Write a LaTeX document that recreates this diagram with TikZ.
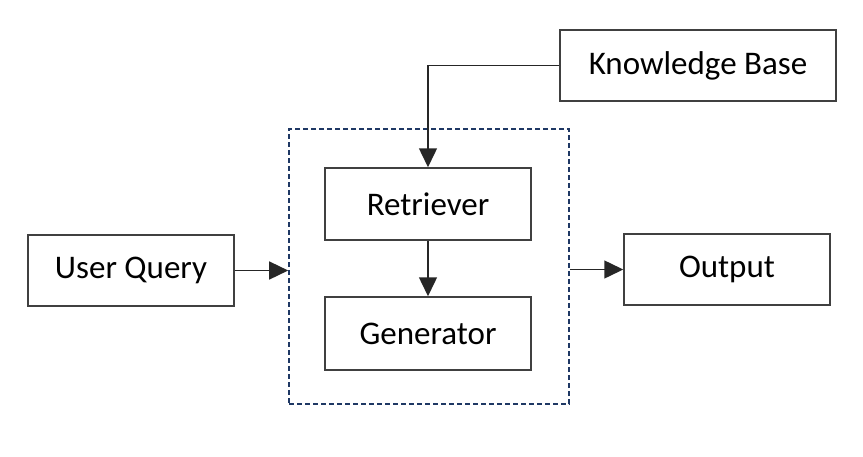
\documentclass[tikz,border=0pt]{standalone}
\usepackage{fontspec}
\setmainfont{Carlito}
\usetikzlibrary{arrows.meta}
\definecolor{boxline}{HTML}{404040}
\definecolor{navy}{HTML}{1F3864}
\begin{document}
\begin{tikzpicture}[x=1pt,y=-1pt,
  blk/.style={draw=boxline,line width=1.5pt,fill=white,inner sep=0pt,font=\fontsize{33}{40}\selectfont},
  grp/.style={draw=navy,line width=1.6pt,dash pattern=on 5pt off 3pt,inner sep=0pt},
  conn/.style={draw=black!85,line width=1.5pt,-{Triangle[length=19pt,width=18pt]}}]
\useasboundingbox (0,0) rectangle (863,456);
\node[grp,minimum width=280pt,minimum height=275pt] (sys) at (429,266.5) {};
\node[blk,minimum width=276pt,minimum height=71pt] (kb) at (698,65.5) {Knowledge Base};
\node[blk,minimum width=206pt,minimum height=72pt] (ret) at (428,204) {Retriever};
\node[blk,minimum width=206pt,minimum height=73pt] (gen) at (428,333.5) {Generator};
\node[blk,minimum width=206pt,minimum height=71pt] (uq) at (131,270.5) {User Query};
\node[blk,minimum width=206pt,minimum height=71pt] (out) at (727,269.5) {Output};
\draw[conn] (kb.west) -| (ret.north);
\draw[conn] (ret.south) -- (gen.north);
\draw[conn] (uq.east) -- (sys.west |- uq.east);
\draw[conn] (sys.east |- out.west) -- (out.west);
\end{tikzpicture}
\end{document}
